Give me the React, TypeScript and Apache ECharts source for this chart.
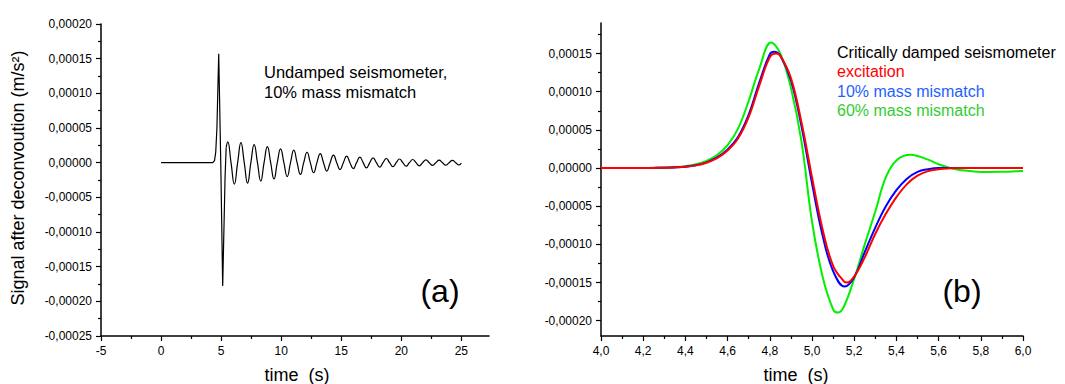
import React, { useEffect, useRef } from "react";
import * as echarts from "echarts";

const FONT = "'Liberation Sans', Arial, sans-serif";

// ---- panel (a) ----
const leftXMajor = [-5, 0, 5, 10, 15, 20, 25];
const leftXMinor = [-2.5, 2.5, 7.5, 12.5, 17.5, 22.5];

const spikeData: number[][] = [
  [0, 0], [4.3, 0], [4.45, 0.3e-5], [4.55, 1.5e-5], [4.65, 5e-5], [4.72, 10e-5],
  [4.8, 15.7e-5], [4.97, 0], [5.13, -17.8e-5], [5.33, -2e-5], [5.42, 2.2e-5],
];

const ringData: number[][] = [
  [5.42, 2.2e-5],
  [5.55, 3.0e-5], [5.825, 0], [6.1, -3.1e-5], [6.375, 0],
  [6.65, 2.88e-5], [6.925, 0], [7.2, -2.95e-5], [7.475, 0],
  [7.75, 2.6e-5], [8.025, 0], [8.3, -2.65e-5], [8.575, 0],
  [8.85, 2.3e-5], [9.125, 0], [9.4, -2.35e-5], [9.675, 0],
  [9.95, 2.0e-5], [10.225, 0], [10.5, -2.0e-5], [10.775, 0],
  [11.05, 1.8e-5], [11.325, 0], [11.6, -1.7e-5], [11.875, 0],
  [12.15, 1.5e-5], [12.425, 0], [12.7, -1.45e-5], [12.975, 0],
  [13.25, 1.3e-5], [13.525, 0], [13.8, -1.22e-5], [14.075, 0],
  [14.35, 1.08e-5], [14.625, 0], [14.9, -1.0e-5], [15.175, 0],
  [15.45, 0.94e-5], [15.725, 0], [16.0, -0.86e-5], [16.275, 0],
  [16.55, 0.8e-5], [16.825, 0], [17.1, -0.75e-5], [17.375, 0],
  [17.65, 0.7e-5], [17.925, 0], [18.2, -0.65e-5], [18.475, 0],
  [18.75, 0.6e-5], [19.025, 0], [19.3, -0.58e-5], [19.575, 0],
  [19.85, 0.53e-5], [20.125, 0], [20.4, -0.5e-5], [20.675, 0],
  [20.95, 0.46e-5], [21.225, 0], [21.5, -0.45e-5], [21.775, 0],
  [22.05, 0.4e-5], [22.325, 0], [22.6, -0.4e-5], [22.875, 0],
  [23.15, 0.36e-5], [23.425, 0], [23.7, -0.36e-5], [23.975, 0],
  [24.25, 0.32e-5], [24.525, 0], [24.8, -0.33e-5], [25.0, -0.05e-5],
];

// ---- panel (b) ----
const rightYMajor = [-0.0002, -0.00015, -0.0001, -0.00005, 0, 0.00005, 0.0001, 0.00015];
const rightYMinor = [-0.000175, -0.000125, -0.000075, -0.000025, 0.000025, 0.000075, 0.000125, 0.000175];

// [time (s), signal in units of 1e-4 m/s^2]
const excitation: number[][] = [
  [4.0, 0], [4.1, 0], [4.2, 0.001], [4.25, 0.002], [4.3, 0.004], [4.35, 0.008], [4.4, 0.016],
  [4.45, 0.035], [4.5, 0.07], [4.55, 0.13], [4.6, 0.23], [4.65, 0.39], [4.7, 0.67], [4.75, 1.08],
  [4.8, 1.45], [4.83, 1.5], [4.85, 1.47], [4.9, 1.18], [4.95, 0.6], [5.0, -0.12], [5.05, -0.8],
  [5.1, -1.28], [5.15, -1.48], [5.166, -1.5], [5.2, -1.42], [5.25, -1.17], [5.3, -0.86],
  [5.35, -0.6], [5.4, -0.38], [5.45, -0.21], [5.5, -0.1], [5.55, -0.04], [5.6, -0.015],
  [5.65, -0.004], [5.7, 0], [5.8, 0], [5.9, 0], [6.0, 0],
];
const mismatch10: number[][] = [
  [4.0, 0], [4.1, 0], [4.2, 0.001], [4.25, 0.002], [4.3, 0.004], [4.35, 0.009], [4.4, 0.017],
  [4.45, 0.037], [4.5, 0.075], [4.55, 0.14], [4.6, 0.245], [4.65, 0.41], [4.7, 0.7], [4.75, 1.12],
  [4.8, 1.49], [4.82, 1.523], [4.85, 1.47], [4.9, 1.15], [4.95, 0.55], [5.0, -0.2], [5.05, -0.88],
  [5.1, -1.35], [5.155, -1.553], [5.2, -1.43], [5.25, -1.1], [5.3, -0.78], [5.35, -0.5],
  [5.4, -0.29], [5.45, -0.14], [5.5, -0.05], [5.55, -0.015], [5.6, 0], [5.7, 0], [5.8, 0],
  [5.9, 0], [6.0, 0],
];
const mismatch60: number[][] = [
  [4.0, 0], [4.1, 0], [4.2, 0.001], [4.25, 0.003], [4.3, 0.006], [4.35, 0.012], [4.4, 0.025],
  [4.45, 0.05], [4.5, 0.095], [4.55, 0.17], [4.6, 0.3], [4.65, 0.52], [4.7, 0.88], [4.75, 1.3],
  [4.806, 1.645], [4.85, 1.5], [4.9, 1.05], [4.95, 0.35], [5.0, -0.7], [5.05, -1.42],
  [5.1, -1.85], [5.123, -1.893], [5.15, -1.82], [5.2, -1.45], [5.25, -1.0], [5.3, -0.57],
  [5.35, -0.12], [5.4, 0.1], [5.466, 0.175], [5.55, 0.11], [5.6, 0.05], [5.65, 0.005],
  [5.7, -0.025], [5.75, -0.04], [5.83, -0.052], [5.9, -0.05], [5.95, -0.045], [6.0, -0.04],
];

const fmtY = (v: number) => {
  const s = Math.abs(v).toFixed(5).replace(".", ",");
  return (v < -1e-12 ? "-" : "") + s;
};

const scaled = (pts: number[][]) => pts.map(([t, v]) => [t, v * 1e-4]);

export default function App() {
  const ref = useRef<HTMLDivElement>(null);
  useEffect(() => {
    if (!ref.current) return;
    const chart = echarts.init(ref.current, undefined, { renderer: "svg" });
    const axisLine = { show: true, onZero: false, lineStyle: { color: "#000", width: 1.5 } };
    const noLine = { show: false, onZero: false };
    const label = { color: "#000", fontSize: 12, fontFamily: FONT };
    const tickStyle = { color: "#000", width: 1.2 };
    chart.setOption({
      animation: false,
      backgroundColor: "#fff",
      grid: [
        { left: 101, top: 24, width: 388, height: 312 },
        { left: 601, top: 23, width: 422, height: 313 },
      ],
      xAxis: [
        {
          gridIndex: 0, type: "value", position: "bottom", min: -5, max: 27.3,
          axisLine, splitLine: { show: false },
          axisTick: { show: true, length: 5, lineStyle: tickStyle, customValues: leftXMajor },
          axisLabel: { ...label, margin: 9, customValues: leftXMajor, formatter: (v: number) => String(v) },
        },
        {
          gridIndex: 0, type: "value", position: "bottom", offset: 0, min: -5, max: 27.3,
          axisLine: noLine, splitLine: { show: false },
          axisTick: { show: true, length: 3, lineStyle: tickStyle, customValues: leftXMinor },
          axisLabel: { show: false },
        },
        {
          gridIndex: 1, type: "value", position: "bottom", min: 4, max: 6, interval: 0.2,
          axisLine, splitLine: { show: false },
          axisTick: { show: true, length: 5, lineStyle: tickStyle },
          minorTick: { show: true, splitNumber: 2, length: 3, lineStyle: tickStyle },
          axisLabel: { ...label, margin: 9, formatter: (v: number) => v.toFixed(1).replace(".", ",") },
        },
      ],
      yAxis: [
        {
          gridIndex: 0, type: "value", position: "left", min: -0.00025, max: 0.0002, interval: 0.00005,
          axisLine, splitLine: { show: false },
          axisTick: { show: true, length: 5, lineStyle: tickStyle },
          minorTick: { show: true, splitNumber: 2, length: 3, lineStyle: tickStyle },
          axisLabel: { ...label, margin: 9, formatter: fmtY },
        },
        {
          gridIndex: 1, type: "value", position: "left", min: -0.00022, max: 0.00019,
          axisLine, splitLine: { show: false },
          axisTick: { show: true, length: 5, lineStyle: tickStyle, customValues: rightYMajor },
          axisLabel: { ...label, margin: 9, customValues: rightYMajor, formatter: fmtY },
        },
        {
          gridIndex: 1, type: "value", position: "left", offset: 0, min: -0.00022, max: 0.00019,
          axisLine: noLine, splitLine: { show: false },
          axisTick: { show: true, length: 3, lineStyle: tickStyle, customValues: rightYMinor },
          axisLabel: { show: false },
        },
      ],
      series: [
        {
          type: "line", xAxisIndex: 0, yAxisIndex: 0, data: spikeData, showSymbol: false,
          lineStyle: { color: "#000", width: 1.2 },
        },
        {
          type: "line", xAxisIndex: 0, yAxisIndex: 0, data: ringData, showSymbol: false, smooth: 0.5,
          lineStyle: { color: "#000", width: 1.2 },
        },
        {
          type: "line", xAxisIndex: 2, yAxisIndex: 1, data: scaled(mismatch60), showSymbol: false, smooth: 0.4,
          lineStyle: { color: "#00f000", width: 2 },
        },
        {
          type: "line", xAxisIndex: 2, yAxisIndex: 1, data: scaled(mismatch10), showSymbol: false, smooth: 0.4,
          lineStyle: { color: "#0000ff", width: 2 },
        },
        {
          type: "line", xAxisIndex: 2, yAxisIndex: 1, data: scaled(excitation), showSymbol: false, smooth: 0.4,
          lineStyle: { color: "#ff0000", width: 2 },
        },
      ],
      graphic: [
        {
          type: "text", x: 18, y: 178, rotation: Math.PI / 2,
          style: { text: "Signal after deconvoution (m/s²)", fontSize: 18, fontFamily: FONT, fill: "#000", align: "center", verticalAlign: "middle" },
        },
        {
          type: "text", x: 297, y: 375,
          style: { text: "time  (s)", fontSize: 18, fontFamily: FONT, fill: "#000", align: "center", verticalAlign: "middle" },
        },
        {
          type: "text", x: 796, y: 375,
          style: { text: "time  (s)", fontSize: 18, fontFamily: FONT, fill: "#000", align: "center", verticalAlign: "middle" },
        },
        {
          type: "text", x: 264, y: 72,
          style: { text: "Undamped seismometer,", fontSize: 16.5, fontFamily: FONT, fill: "#000", align: "left", verticalAlign: "middle" },
        },
        {
          type: "text", x: 264, y: 92,
          style: { text: "10% mass mismatch", fontSize: 16.5, fontFamily: FONT, fill: "#000", align: "left", verticalAlign: "middle" },
        },
        {
          type: "text", x: 440, y: 291,
          style: { text: "(a)", fontSize: 32, fontFamily: FONT, fill: "#000", align: "center", verticalAlign: "middle" },
        },
        {
          type: "text", x: 962, y: 291,
          style: { text: "(b)", fontSize: 32, fontFamily: FONT, fill: "#000", align: "center", verticalAlign: "middle" },
        },
        {
          type: "text", x: 837, y: 52,
          style: { text: "Critically damped seismometer", fontSize: 16, fontFamily: FONT, fill: "#000", align: "left", verticalAlign: "middle" },
        },
        {
          type: "text", x: 837, y: 71,
          style: { text: "excitation", fontSize: 16, fontFamily: FONT, fill: "#ff0000", align: "left", verticalAlign: "middle" },
        },
        {
          type: "text", x: 837, y: 91,
          style: { text: "10% mass mismatch", fontSize: 16, fontFamily: FONT, fill: "#1f5fff", align: "left", verticalAlign: "middle" },
        },
        {
          type: "text", x: 837, y: 110,
          style: { text: "60% mass mismatch", fontSize: 16, fontFamily: FONT, fill: "#33cc33", align: "left", verticalAlign: "middle" },
        },
      ],
    });
    return () => chart.dispose();
  }, []);
  return (
    <div
      ref={ref}
      style={{ position: "fixed", left: 0, top: 0, width: 1065, height: 384, background: "#fff" }}
    />
  );
}
